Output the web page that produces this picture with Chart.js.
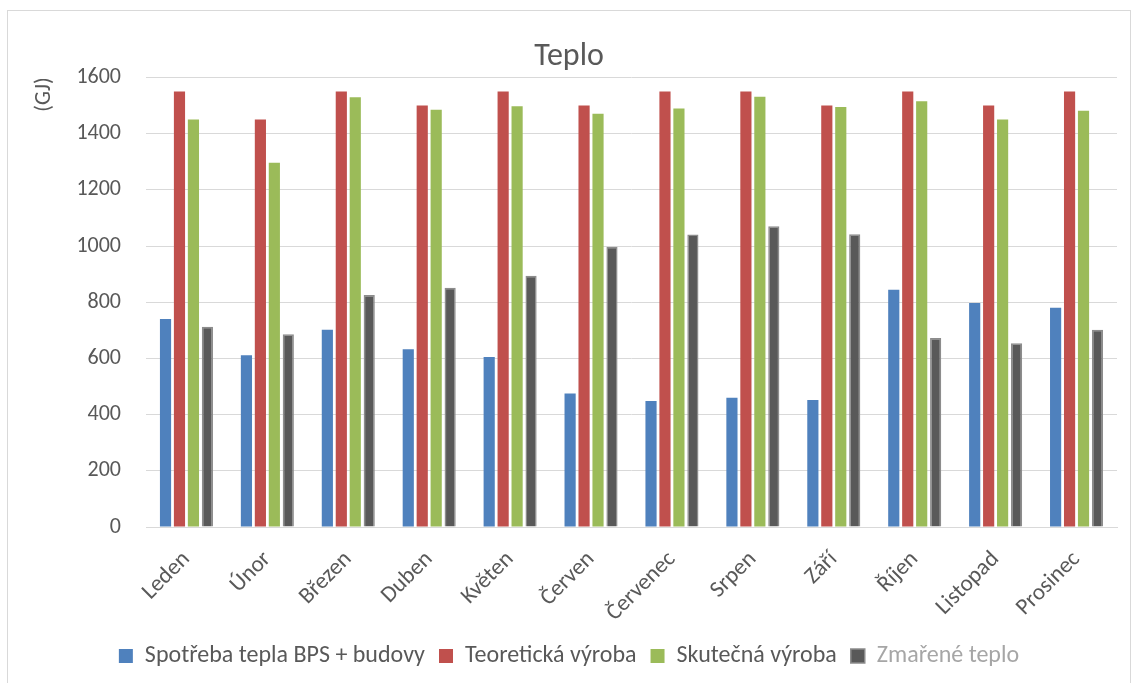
<!DOCTYPE html>
<html lang="cs">
<head>
  <meta charset="UTF-8">
  <title>Teplo</title>
  <script src="https://cdn.jsdelivr.net/npm/chart.js"></script>
  <style>
    html, body {
      margin: 0;
      padding: 0;
      background: #fff;
    }
    #wrap {
      position: absolute;
      left: 0;
      top: 0;
      width: 1138px;
      height: 683px;
    }
    #frame {
      position: absolute;
      left: 7px;
      top: 10px;
      width: 1122px;
      height: 700px;
      border: 1px solid #d9d9d9;
      pointer-events: none;
    }
  </style>
</head>
<body>
  <div id="wrap">
    <canvas id="myChart" width="1138" height="683"></canvas>
  </div>
  <div id="frame"></div>

  <script>
    const months = ['Leden', 'Únor', 'Březen', 'Duben', 'Květen', 'Červen',
      'Červenec', 'Srpen', 'Září', 'Říjen', 'Listopad', 'Prosinec'];

    const spotreba = [740, 611, 702, 633, 605, 475, 448, 460, 452, 844, 797, 780];
    const teoreticka = [1550, 1450, 1550, 1500, 1550, 1500, 1550, 1550, 1500, 1550, 1500, 1550];
    const skutecna = [1450, 1296, 1529, 1485, 1497, 1471, 1489, 1531, 1495, 1515, 1450, 1481];
    const zmarene = [713, 686, 826, 851, 894, 997, 1041, 1070, 1042, 673, 654, 702];

    const yTicks = [0, 200, 400, 600, 800, 1000, 1200, 1400, 1600];

    const font = 'Carlito, Calibri, Lato, sans-serif';
    const textColor = '#595959';

    Chart.defaults.font.family = font;
    Chart.defaults.color = textColor;

    const ctx = document.getElementById('myChart').getContext('2d');
    const chart = new Chart(ctx, {
      type: 'bar',
      data: {
        labels: months,
        datasets: [
          { label: 'Spotřeba tepla BPS + budovy', data: spotreba, backgroundColor: '#4F81BD', borderColor: '#4F81BD', borderWidth: 0 },
          { label: 'Teoretická výroba', data: teoreticka, backgroundColor: '#C0504D', borderColor: '#C0504D', borderWidth: 0 },
          { label: 'Skutečná výroba', data: skutecna, backgroundColor: '#9BBB59', borderColor: '#9BBB59', borderWidth: 0 },
          { label: 'Zmařené teplo', data: zmarene, backgroundColor: '#595959', borderColor: '#8c8c8c', borderWidth: 1.5 }
        ]
      },
      options: {
        responsive: false,
        animation: false,
        layout: {
          padding: { left: 8, right: 8, top: 38, bottom: 5 }
        },
        datasets: {
          bar: {
            categoryPercentage: 0.69,
            barPercentage: 0.8
          }
        },
        plugins: {
          title: {
            display: true,
            text: 'Teplo',
            color: textColor,
            font: { size: 32, weight: 'normal', lineHeight: 1.2 },
            padding: { top: 0, bottom: 1 }
          },
          legend: {
            position: 'bottom',
            labels: {
              boxWidth: 14,
              boxHeight: 14,
              padding: 14,
              font: { size: 24 },
              generateLabels: function(c) {
                const items = Chart.defaults.plugins.legend.labels.generateLabels(c);
                items.forEach(function(it, i) {
                  if (i < 3) it.lineWidth = 0;
                  it.fontColor = i === 3 ? '#a6a6a6' : textColor;
                });
                return items;
              }
            }
          },
          tooltip: { enabled: false }
        },
        scales: {
          x: {
            grid: { display: false },
            border: { display: true, color: '#d9d9d9', width: 1 },
            afterFit: function(axis) { axis.height = 103; },
            ticks: {
              minRotation: 45,
              maxRotation: 45,
              padding: 11,
              font: { size: 23 },
              color: textColor
            }
          },
          y: {
            min: 0,
            max: 1600,
            afterBuildTicks: function(axis) {
              axis.ticks = yTicks.map(function(v) { return { value: v }; });
            },
            afterFit: function(axis) { axis.width = 138; },
            grid: { color: '#d9d9d9', lineWidth: 1, drawTicks: false },
            border: { display: false },
            ticks: {
              padding: 25,
              font: { size: 22 },
              color: textColor,
              callback: function(v) { return String(v); }
            },
            title: {
              display: true,
              text: '(GJ)',
              align: 'end',
              font: { size: 22, lineHeight: 1.2 },
              color: textColor,
              padding: { top: 23, bottom: 0 }
            }
          },
          // empty strip on the right so the title sits mid-canvas
          yRight: {
            position: 'right',
            display: true,
            grid: { display: false, drawTicks: false },
            border: { display: false },
            ticks: { display: false },
            afterFit: function(axis) { axis.width = 13; }
          }
        }
      }
    });
  </script>
</body>
</html>
